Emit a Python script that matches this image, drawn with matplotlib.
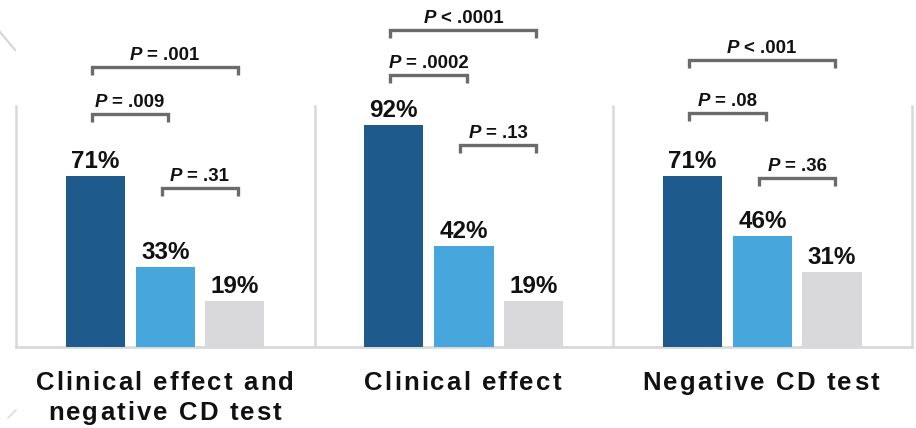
import matplotlib
matplotlib.use("Agg")
import matplotlib.pyplot as plt
from matplotlib.font_manager import FontProperties
from matplotlib.lines import Line2D

# ---- data ----
groups = [["Clinical effect and", "negative CD test"], ["Clinical effect"], ["Negative CD test"]]
series_colors = ["#1f5a8c", "#47a6dc", "#d9d9db"]
values = [
    [71, 33, 19],
    [92, 42, 19],
    [71, 46, 31],
]
# brackets: (bar_from, bar_to, height, label_rest) per group; label prefix "P"
brackets = [
    [(0, 2, 116.2, "= .001"), (0, 1, 96.7, "= .009"), (1, 2, 66.0, "= .31")],
    [(0, 2, 131.5, "< .0001"), (0, 1, 112.9, "= .0002"), (1, 2, 83.8, "= .13")],
    [(0, 2, 119.0, "< .001"), (0, 1, 97.0, "= .08"), (1, 2, 70.0, "= .36")],
]

W, H = 916, 428
fig = plt.figure(figsize=(W / 100, H / 100), dpi=100)
fig.patch.set_facecolor("white")
ax = fig.add_axes([16 / W, (H - 347) / H, (912 - 16) / W, 241 / H])
ax.set_xlim(-0.5, 2.5)
ax.set_ylim(0, 100)
ax.axis("off")

offsets = [-0.235, 0.0, 0.232]
bw = 0.198
sep_color = "#d9d9d9"

# separators and baseline
for xs in [-0.5, 0.5, 1.5, 2.5]:
    ax.plot([xs, xs], [0, 100], color=sep_color, lw=1.8, clip_on=False, zorder=1)
ax.plot([-0.5, 2.5], [0, 0], color=sep_color, lw=2.0, clip_on=False, zorder=1)

FAM = "Liberation Sans"
fp_pct = FontProperties(family=FAM, weight="bold", size=17.5)
fp_p_it = FontProperties(family=FAM, weight="bold", style="italic", size=13.4)
fp_p = FontProperties(family=FAM, weight="bold", size=13.4)
fp_cat = FontProperties(family=FAM, weight="bold", size=18.5)

renderer = fig.canvas.get_renderer()


def tw(s, fp):
    w, h, d = renderer.get_text_width_height_descent(s, fp, ismath=False)
    return w


for g, vals in enumerate(values):
    for i, v in enumerate(vals):
        x = g + offsets[i]
        ax.bar(x, v, width=bw, color=series_colors[i], zorder=2)
        ax.annotate(f"{v}%", xy=(x, v), xytext=(0, 8), textcoords="offset pixels",
                    ha="center", va="baseline", fontproperties=fp_pct, color="#111111",
                    annotation_clip=False)

# brackets
tick = 3.4
bc = "#6b6b6b"
for g, blist in enumerate(brackets):
    for (a, b, y, rest) in blist:
        x1 = g + offsets[a] - 0.012
        x2 = g + offsets[b] + 0.01
        ax.add_line(Line2D([x1, x1, x2, x2], [y - tick, y, y, y - tick], color=bc, lw=2.4,
                           solid_joinstyle="miter", solid_capstyle="butt", clip_on=False, zorder=3))
        xc = (x1 + x2) / 2
        wP = tw("P", fp_p_it)
        sp = 5.0
        wr = tw(rest, fp_p)
        total = wP + sp + wr
        left = -total / 2
        ax.annotate("P", xy=(xc, y), xytext=(left, 7), textcoords="offset pixels",
                    ha="left", va="baseline", fontproperties=fp_p_it, color="#111111",
                    annotation_clip=False)
        ax.annotate(rest, xy=(xc, y), xytext=(left + wP + sp, 7), textcoords="offset pixels",
                    ha="left", va="baseline", fontproperties=fp_p, color="#111111",
                    annotation_clip=False)

# category labels with letter spacing
spacing = 2.1


def spaced_text(s, xc, dy):
    n = len(s)
    total = tw(s, fp_cat) + spacing * (n - 1)
    for i, c in enumerate(s):
        if c == " ":
            continue
        xi = tw(s[:i] + c, fp_cat) - tw(c, fp_cat) if i > 0 else 0.0
        ax.annotate(c, xy=(xc, 0), xytext=(xi + i * spacing - total / 2, dy),
                    textcoords="offset pixels", ha="left", va="baseline",
                    fontproperties=fp_cat, color="#111111", annotation_clip=False)


cat_dx = [-0.002, -0.005, -0.007]
for g, lines in enumerate(groups):
    for k, line in enumerate(lines):
        spaced_text(line, g + cat_dx[g], -43 - 30 * k)

# faint decorative background strokes
fig.add_artist(Line2D([0 / W, 15 / W], [1 - 32 / H, 1 - 50 / H], color="#d5d5d5", lw=1.5))
fig.add_artist(Line2D([8 / W, 16 / W], [1 - 418 / H, 1 - 410 / H], color="#dddddd", lw=1.2))

fig.savefig("out.png", dpi=100, facecolor="white")
